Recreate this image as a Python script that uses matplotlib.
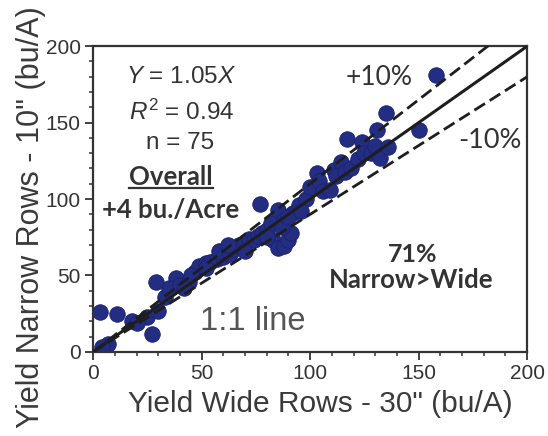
import numpy as np
import matplotlib
matplotlib.use("Agg")
import matplotlib.pyplot as plt
from matplotlib.lines import Line2D
from matplotlib.ticker import MultipleLocator

plt.rcParams["font.family"] = ["Liberation Sans", "DejaVu Sans"]
plt.rcParams["mathtext.fontset"] = "custom"
plt.rcParams["mathtext.rm"] = "Liberation Sans"
plt.rcParams["mathtext.it"] = "Liberation Sans:italic"

# yields (bu/A): wide rows (30") vs narrow rows (10")
wide = [3, 11, 18, 25, 27, 7, 20, 30, 33, 29, 38, 35, 40, 44, 47, 49, 52, 54, 57, 60,
        58, 63, 65, 67, 68, 70, 72, 74, 76, 78, 77, 80, 82, 83, 85, 88, 90, 91, 85, 92,
        88, 95, 98, 100, 103, 104, 106, 109, 111, 112, 114, 116, 117, 119, 122, 124, 125, 128, 130, 131,
        132, 135, 136, 150, 158, 62, 45, 52, 70, 80, 87, 90, 4, 42, 96]
narrow = [26, 25, 20, 23, 12, 5, 19, 27, 36, 46, 48, 42, 44, 46, 52, 56, 58, 59, 61, 62,
          66, 64, 67, 70, 69, 72, 74, 73, 76, 78, 97, 80, 84, 73, 68, 69, 73, 78, 93, 91,
          86, 96, 100, 108, 117, 112, 105, 106, 119, 115, 124, 118, 139, 120, 126, 137, 130, 130, 135, 145,
          127, 156, 134, 145, 181, 70, 50, 55, 66, 75, 82, 88, 3, 42, 92]

line_x = [0, 200]
slope_plus = 1.10
slope_minus = 0.90

fig = plt.figure(figsize=(5.48, 4.36), dpi=100)
ax = fig.add_axes([0.170, 0.193, 0.792, 0.701])

ax.scatter(wide, narrow, s=125, color="#232d82", edgecolors="#1a2370", linewidths=0.6, zorder=2)
ax.plot(line_x, line_x, color="#1e1e1e", lw=2.2, zorder=3)
ax.plot(line_x, [v * slope_plus for v in line_x], color="#1e1e1e", lw=2.0, ls=(0, (4.5, 2)), zorder=3)
ax.plot(line_x, [v * slope_minus for v in line_x], color="#1e1e1e", lw=2.0, ls=(0, (4.5, 2)), zorder=3)

ax.set_xlim(0, 200)
ax.set_ylim(0, 200)
ax.xaxis.set_major_locator(MultipleLocator(50))
ax.yaxis.set_major_locator(MultipleLocator(50))
ax.xaxis.set_minor_locator(MultipleLocator(10))
ax.yaxis.set_minor_locator(MultipleLocator(10))
ax.tick_params(which="major", length=6, width=1.3, color="#333333", labelsize=15,
               labelcolor="#333333", pad=3)
ax.tick_params(which="minor", length=3, width=1.1, color="#333333")
for sp in ax.spines.values():
    sp.set_linewidth(1.6)
    sp.set_color("#333333")

ax.set_xlabel('Yield Wide Rows - 30" (bu/A)', fontsize=21.5, color="#3a3a3a")
ax.set_ylabel('Yield Narrow Rows - 10" (bu/A)', fontsize=22, color="#3a3a3a")
ax.xaxis.set_label_coords(0.523, -0.125)
ax.yaxis.set_label_coords(-0.109, 0.44)

txt = dict(ha="center", va="center", color="#333333")
ax.text(40.6, 179.7, r"$\mathit{Y}$ = 1.05$\mathit{X}$", fontsize=17.5, **txt)
ax.text(40.6, 156.9, r"$\mathit{R}^2$ = 0.94", fontsize=17.5, **txt)
ax.text(40, 136.6, "n = 75", fontsize=17.5, **txt)
overall = ax.text(36, 114.4, "Overall", fontsize=18.5, fontweight="bold", family="Lato", **txt)
ax.text(35.5, 92.8, "+4 bu./Acre", fontsize=18.5, fontweight="bold", family="Lato", **txt)
ax.text(73.4, 19.6, "1:1 line", fontsize=23.5, color="#555555", ha="center", va="center")
ax.text(132, 179.7, "+10%", fontsize=19, family="Lato", **txt)
ax.text(183, 138.6, "-10%", fontsize=19.5, family="Lato", **txt)
ax.text(147, 63.4, "71%", fontsize=18, fontweight="bold", family="Lato", **txt)
ax.text(146.7, 47, "Narrow>Wide", fontsize=18.5, fontweight="bold", family="Lato", **txt)

# underline for "Overall"
fig.canvas.draw()
bb = overall.get_window_extent()
inv = fig.transFigure.inverted()
(x0, y0), (x1, _) = inv.transform([(bb.x0, bb.y0 + 1), (bb.x1, bb.y0 + 1)])
fig.add_artist(Line2D([x0, x1], [y0, y0], color="#333333", lw=1.6, transform=fig.transFigure))

fig.savefig("out.png", dpi=100)
